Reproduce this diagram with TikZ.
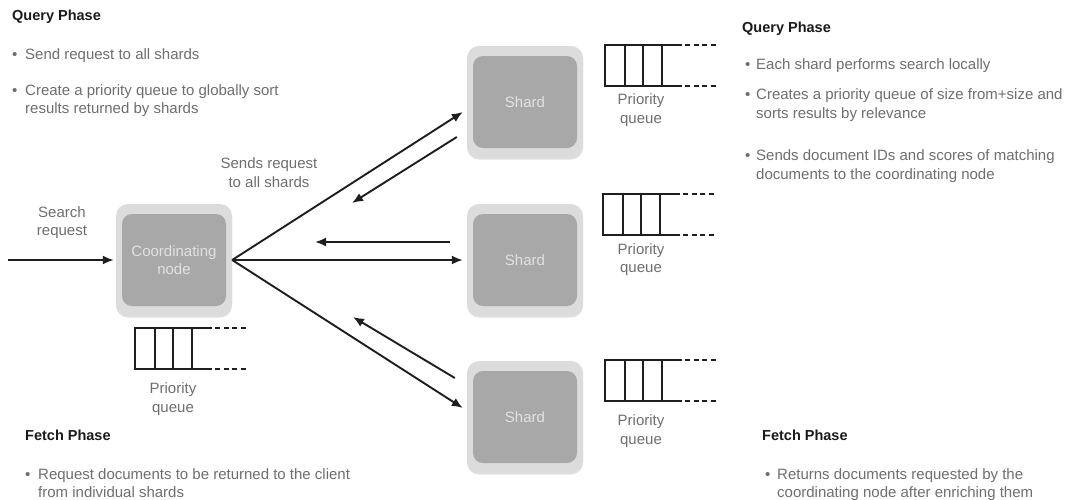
\documentclass[tikz,border=0pt]{standalone}
\usepackage{fontspec}
\setmainfont{Liberation Sans}
\usetikzlibrary{arrows.meta,shadows}
\definecolor{txt}{HTML}{6E6E6E}
\definecolor{hdr}{HTML}{1A1A1A}
\definecolor{ln}{HTML}{1E1E1E}
\definecolor{outerc}{HTML}{DCDCDC}
\definecolor{innerc}{HTML}{A8A8A8}
\definecolor{boxtxt}{HTML}{E2E2E2}
\newcommand\pqueueat[2]{%
  \begin{scope}[shift={(#1,#2)}]
    \draw[qline] (77,0) -- (0,0) -- (0,41) -- (77,41);
    \draw[qline] (20,0) -- (20,41) (38,0) -- (38,41) (57,0) -- (57,41);
    \draw[qline, dash pattern=on 5pt off 3.5pt] (80,0) -- (111,0) (80,41) -- (111,41);
  \end{scope}}
\begin{document}
\begin{tikzpicture}[x=1pt,y=-1pt,
  lbl/.style={inner sep=0pt, text height=0.72em, text depth=0.22em, font=\fontsize{15}{18}\selectfont, text=txt},
  head/.style={lbl, font=\fontsize{14.5}{18}\selectfont\bfseries, text=hdr},
  mlbl/.style={inner sep=0pt, align=center, font=\fontsize{15}{18.5}\selectfont, text=txt},
  outerbox/.style={minimum width=116pt, minimum height=112pt, rounded corners=12pt, fill=outerc,
    drop shadow={shadow xshift=0pt, shadow yshift=-1.5pt, fill=black, opacity=0.12}},
  innerbox/.style={minimum width=104pt, minimum height=92pt, rounded corners=10pt, fill=innerc,
    text=boxtxt, align=center, inner sep=0pt, font=\fontsize{15}{18}\selectfont},
  arr/.style={draw=ln, line width=1.9pt, -{Latex[length=11pt,width=9pt]}},
  qline/.style={draw=ln, line width=1.8pt}]
\useasboundingbox (0,0) rectangle (1070,499);

% boxes
\node[outerbox] (co) at (174,260) {};
\node[innerbox] (ci) at (174,260) {Coordinating\\node};
\node[outerbox] (s1o) at (525,102) {};
\node[innerbox] (s1) at (525,102) {Shard};
\node[outerbox] (s2o) at (525,260) {};
\node[innerbox] (s2) at (525,260) {Shard};
\node[outerbox] (s3o) at (525,417) {};
\node[innerbox] (s3) at (525,417) {Shard};

% queues
\pqueueat{135}{328}
\pqueueat{605}{45}
\pqueueat{603}{194}
\pqueueat{605}{360}
\node[mlbl] (qc) at (173,399) {Priority\\queue};
\node[mlbl] (q1) at (641,110) {Priority\\queue};
\node[mlbl] (q2) at (641,259.5) {Priority\\queue};
\node[mlbl] (q3) at (641,431) {Priority\\queue};

% arrows
\coordinate (in) at (8,260);
\draw[arr] (in) -- ([xshift=-2pt]co.west);
\draw[arr] (co.east) -- ([xshift=-4pt,yshift=-10pt]s1o.west);
\draw[arr] (co.east) -- ([xshift=-4pt]s2o.west);
\draw[arr] (co.east) -- ([xshift=-4pt,yshift=9pt]s3o.west);
\coordinate (r1) at (352,203);
\coordinate (r2) at (315,242);
\coordinate (r3) at (353,317);
\draw[arr] ([xshift=-10pt,yshift=-35pt]s1o.west) -- (r1);
\draw[arr] ([xshift=-17pt,yshift=18pt]s2o.west) -- (r2);
\draw[arr] ([xshift=-12pt,yshift=39pt]s3o.west) -- (r3);

\node[mlbl] (sr) at (62,222.5) {Search\\request};
\node[mlbl] (sa) at (269,172.5) {Sends request\\to all shards};

% left query phase
\node[head, anchor=west] (hq1) at (12,18) {Query Phase};
\node[lbl, anchor=west] (b11) at (12,57) {•};
\node[lbl, anchor=west] (t11) at (25,57) {Send request to all shards};
\node[lbl, anchor=west] (b12) at (12,93) {•};
\node[lbl, anchor=west] (t12) at (25,93) {Create a priority queue to globally sort};
\node[lbl, anchor=west] (t12b) at (25,111) {results returned by shards};

% right query phase
\node[head, anchor=west] (hq2) at (742,30) {Query Phase};
\node[lbl, anchor=west] (b21) at (745,67) {•};
\node[lbl, anchor=west] (t21) at (756,67) {Each shard performs search locally};
\node[lbl, anchor=west] (b22) at (745,97) {•};
\node[lbl, anchor=west] (t22) at (756,97) {Creates a priority queue of size from+size and};
\node[lbl, anchor=west] (t22b) at (756,116) {sorts results by relevance};
\node[lbl, anchor=west] (b23) at (745,158) {•};
\node[lbl, anchor=west] (t23) at (756,158) {Sends document IDs and scores of matching};
\node[lbl, anchor=west] (t23b) at (756,177) {documents to the coordinating node};

% left fetch phase
\node[head, anchor=west] (hf1) at (25,438) {Fetch Phase};
\node[lbl, anchor=west] (b31) at (25,477) {•};
\node[lbl, anchor=west] (t31) at (38,477) {Request documents to be returned to the client};
\node[lbl, anchor=west] (t31b) at (38,495) {from individual shards};

% right fetch phase
\node[head, anchor=west] (hf2) at (762,438) {Fetch Phase};
\node[lbl, anchor=west] (b41) at (765,477) {•};
\node[lbl, anchor=west] (t41) at (777,477) {Returns documents requested by the};
\node[lbl, anchor=west] (t41b) at (777,495) {coordinating node after enriching them};
\end{tikzpicture}
\end{document}
